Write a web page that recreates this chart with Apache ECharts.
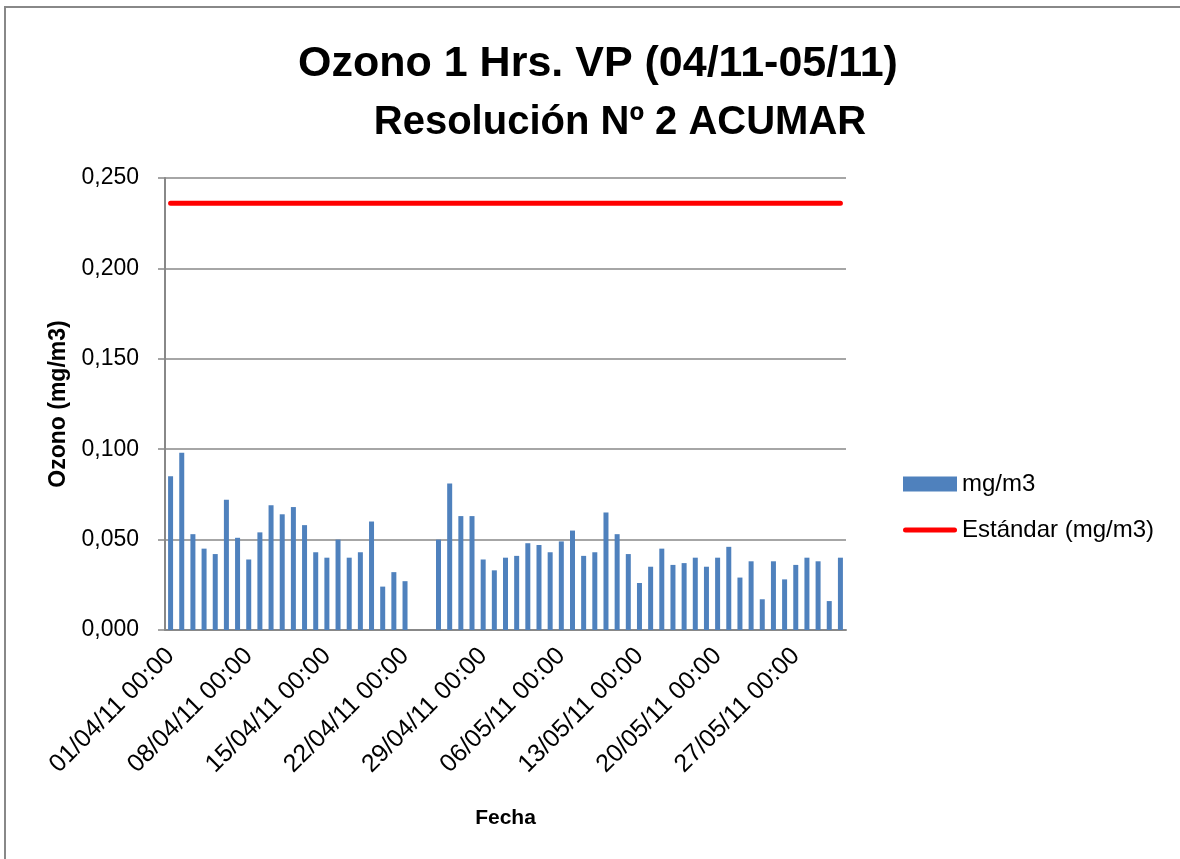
<html>
  <head>
    <meta charset="utf-8">
    <title>Ozono 1 Hrs. VP</title>
    <script src="https://cdn.jsdelivr.net/npm/echarts@6/dist/echarts.min.js"></script>
    <style>
      html, body { margin: 0; padding: 0; background: #fff; }
      #main { width: 1180px; height: 859px; }
    </style>
  </head>
  <body>
    <div id="main"></div>
    <script type="text/javascript">
      // fechas (una por día, 01/04/11 a 31/05/11)
      var fechas = [
        '01/04/11 00:00', '02/04/11 00:00', '03/04/11 00:00', '04/04/11 00:00', '05/04/11 00:00',
        '06/04/11 00:00', '07/04/11 00:00', '08/04/11 00:00', '09/04/11 00:00', '10/04/11 00:00',
        '11/04/11 00:00', '12/04/11 00:00', '13/04/11 00:00', '14/04/11 00:00', '15/04/11 00:00',
        '16/04/11 00:00', '17/04/11 00:00', '18/04/11 00:00', '19/04/11 00:00', '20/04/11 00:00',
        '21/04/11 00:00', '22/04/11 00:00', '23/04/11 00:00', '24/04/11 00:00', '25/04/11 00:00',
        '26/04/11 00:00', '27/04/11 00:00', '28/04/11 00:00', '29/04/11 00:00', '30/04/11 00:00',
        '01/05/11 00:00', '02/05/11 00:00', '03/05/11 00:00', '04/05/11 00:00', '05/05/11 00:00',
        '06/05/11 00:00', '07/05/11 00:00', '08/05/11 00:00', '09/05/11 00:00', '10/05/11 00:00',
        '11/05/11 00:00', '12/05/11 00:00', '13/05/11 00:00', '14/05/11 00:00', '15/05/11 00:00',
        '16/05/11 00:00', '17/05/11 00:00', '18/05/11 00:00', '19/05/11 00:00', '20/05/11 00:00',
        '21/05/11 00:00', '22/05/11 00:00', '23/05/11 00:00', '24/05/11 00:00', '25/05/11 00:00',
        '26/05/11 00:00', '27/05/11 00:00', '28/05/11 00:00', '29/05/11 00:00', '30/05/11 00:00',
        '31/05/11 00:00'
      ];

      // ozono (mg/m3), máximo horario diario
      var ozono = [
        0.085, 0.098, 0.053, 0.045, 0.042, 0.072, 0.051, 0.039, 0.054, 0.069,
        0.064, 0.068, 0.058, 0.043, 0.040, 0.050, 0.040, 0.043, 0.060, 0.024,
        0.032, 0.027, null, null, 0.050, 0.081, 0.063, 0.063, 0.039, 0.033,
        0.040, 0.041, 0.048, 0.047, 0.043, 0.049, 0.055, 0.041, 0.043, 0.065,
        0.053, 0.042, 0.026, 0.035, 0.045, 0.036, 0.037, 0.040, 0.035, 0.040,
        0.046, 0.029, 0.038, 0.017, 0.038, 0.028, 0.036, 0.040, 0.038, 0.016,
        0.040
      ];

      // estándar Resolución Nº 2 ACUMAR (mg/m3)
      var estandar = [
        0.236, 0.236, 0.236, 0.236, 0.236, 0.236, 0.236, 0.236, 0.236, 0.236,
        0.236, 0.236, 0.236, 0.236, 0.236, 0.236, 0.236, 0.236, 0.236, 0.236,
        0.236, 0.236, 0.236, 0.236, 0.236, 0.236, 0.236, 0.236, 0.236, 0.236,
        0.236, 0.236, 0.236, 0.236, 0.236, 0.236, 0.236, 0.236, 0.236, 0.236,
        0.236, 0.236, 0.236, 0.236, 0.236, 0.236, 0.236, 0.236, 0.236, 0.236,
        0.236, 0.236, 0.236, 0.236, 0.236, 0.236, 0.236, 0.236, 0.236, 0.236,
        0.236
      ];

      var nombres = ['mg/m3', 'Estándar (mg/m3)'];

      var fuente = "'Liberation Sans', Arial, sans-serif";
      var gris = '#888888';
      // icono de leyenda: trazo rojo con extremos redondeados
      var iconoLinea = 'path://M2.5,0 L51.5,0 A2.5,2.5 0 0 1 51.5,5 L2.5,5 A2.5,2.5 0 0 1 2.5,0 Z';

      var chartDom = document.getElementById('main');
      var myChart = echarts.init(chartDom);
      var option;

      option = {
        backgroundColor: '#ffffff',
        animation: false,
        textStyle: { fontFamily: fuente, color: '#000' },
        graphic: [
          {
            type: 'rect',
            shape: { x: 5, y: 7, width: 1300, height: 1000 },
            style: { fill: 'none', stroke: gris, lineWidth: 2 }
          }
        ],
        title: [
          {
            text: 'Ozono 1 Hrs. VP (04/11-05/11)',
            left: 593,
            top: 38,
            textAlign: 'center',
            textStyle: { fontFamily: fuente, fontSize: 43, fontWeight: 'bold', color: '#000' }
          },
          {
            text: 'Resolución Nº 2 ACUMAR',
            left: 615,
            top: 98,
            textAlign: 'center',
            textStyle: { fontFamily: fuente, fontSize: 40, fontWeight: 'bold', color: '#000' }
          }
        ],
        legend: {
          orient: 'vertical',
          left: 898,
          top: 467,
          itemWidth: 54,
          itemHeight: 15,
          itemGap: 22,
          symbolKeepAspect: true,
          textStyle: { fontFamily: fuente, fontSize: 24, color: '#000' },
          data: [
            { name: nombres[0], icon: 'rect' },
            { name: nombres[1], icon: iconoLinea, itemStyle: { color: '#FF0000', borderWidth: 0 } }
          ]
        },
        grid: {
          left: 165,
          right: 334,
          top: 178,
          bottom: 229,
          containLabel: false
        },
        xAxis: {
          type: 'category',
          data: fechas,
          boundaryGap: true,
          name: 'Fecha',
          nameLocation: 'middle',
          nameGap: 178,
          nameTextStyle: { fontFamily: fuente, fontSize: 21, fontWeight: 'bold', color: '#000' },
          axisLine: { lineStyle: { color: gris, width: 2 } },
          axisTick: { show: false },
          axisLabel: {
            interval: 6,
            rotate: 45,
            margin: 22,
            fontFamily: fuente,
            fontSize: 25,
            color: '#000'
          }
        },
        yAxis: {
          type: 'value',
          min: 0,
          max: 0.25,
          interval: 0.05,
          name: 'Ozono (mg/m3)',
          nameLocation: 'middle',
          nameRotate: 90,
          nameGap: 91,
          nameTextStyle: { fontFamily: fuente, fontSize: 23, fontWeight: 'bold', color: '#000' },
          axisLine: { show: true, lineStyle: { color: gris, width: 2 } },
          axisTick: { show: true, length: 7, lineStyle: { color: gris, width: 1.5 } },
          axisLabel: {
            margin: 26,
            fontFamily: fuente,
            fontSize: 23,
            color: '#000',
            formatter: function (v) { return v.toFixed(3).replace('.', ','); }
          },
          splitLine: { lineStyle: { color: gris, width: 1.5 } }
        },
        series: [
          {
            name: nombres[0],
            type: 'bar',
            data: ozono,
            barWidth: 5,
            itemStyle: { color: '#4F81BD' }
          },
          {
            name: nombres[1],
            type: 'line',
            data: estandar,
            symbol: 'none',
            showSymbol: false,
            lineStyle: { color: '#FF0000', width: 5, cap: 'round' },
            itemStyle: { color: '#FF0000' }
          }
        ]
      };

      option && myChart.setOption(option);
    </script>
  </body>
</html>
